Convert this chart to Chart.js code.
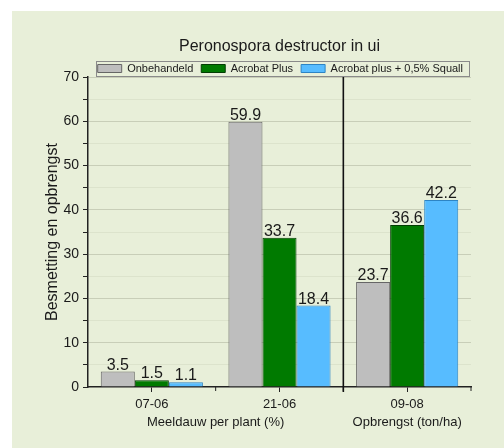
<!DOCTYPE html>
<html>
<head>
<meta charset="utf-8">
<script src="https://cdn.jsdelivr.net/npm/chart.js@4.4.1/dist/chart.umd.min.js"></script>
<style>
body { margin: 0; background: #fff; }
#panel { position: absolute; left: 12px; top: 11px; width: 492px; height: 437px; background: #e8efd9; }
#wrap { position: absolute; left: 0; top: 0; width: 504px; height: 448px; }
</style>
</head>
<body>
<div id="panel"></div>
<div id="wrap"><canvas id="chart"></canvas></div>
<script>
// data
var titleText = 'Peronospora destructor in ui';
var yTitle = 'Besmetting en opbrengst';
var categories = ['07-06', '21-06', '09-08'];
var seriesNames = ['Onbehandeld', 'Acrobat Plus', 'Acrobat plus + 0,5% Squall'];
var onbehandeld = [3.5, 59.9, 23.7];
var acrobatPlus = [1.5, 33.7, 36.6];
var acrobatSquall = [1.1, 18.4, 42.2];
// group label, first and last category index
var groupLabels = ['Meeldauw per plant (%)', 'Opbrengst (ton/ha)'];
var groupSpans = [[0, 1], [2, 2]];
var yMin = 0, yMax = 70, yStep = 5;

var FONT = '"Liberation Sans", Arial, sans-serif';

var extras = {
	id: 'extras',
	afterDatasetsDraw: function(chart) {
		var ctx = chart.ctx;
		var x = chart.scales.x;
		var area = chart.chartArea;
		ctx.save();
		// value labels on top of bars
		ctx.font = '16px ' + FONT;
		ctx.fillStyle = '#1a1a1a';
		ctx.textAlign = 'center';
		ctx.textBaseline = 'alphabetic';
		chart.data.datasets.forEach(function(ds, i) {
			chart.getDatasetMeta(i).data.forEach(function(bar, j) {
				ctx.fillText(ds.data[j].toFixed(1), bar.x, bar.y - 2);
			});
		});
		// divider between the two groups and boundary ticks
		var step = x.getPixelForValue(1) - x.getPixelForValue(0);
		ctx.strokeStyle = '#222';
		ctx.lineWidth = 1;
		for (var k = 0; k < categories.length; k++) {
			var bx = x.getPixelForValue(k) + step / 2;
			ctx.beginPath();
			ctx.moveTo(bx, area.bottom);
			ctx.lineTo(bx, area.bottom + 4);
			ctx.stroke();
		}
		var xd = x.getPixelForValue(groupSpans[0][1]) + step / 2;
		ctx.strokeStyle = '#111';
		ctx.lineWidth = 1.6;
		ctx.beginPath();
		ctx.moveTo(xd, area.top);
		ctx.lineTo(xd, area.bottom + 5);
		ctx.stroke();
		// title
		ctx.fillStyle = '#1a1a1a';
		ctx.font = '16px ' + FONT;
		ctx.fillText(titleText, (area.left + area.right) / 2, 51);
		// group labels under the ticks
		ctx.font = '13px ' + FONT;
		groupSpans.forEach(function(span, g) {
			var cx = (x.getPixelForValue(span[0]) + x.getPixelForValue(span[1])) / 2;
			ctx.fillText(groupLabels[g], cx, area.bottom + 39);
		});
		ctx.restore();
	},
	afterDraw: function(chart) {
		// frame around the legend
		var hb = chart.legend.legendHitBoxes;
		if (!hb || !hb.length) return;
		var left = hb[0].left - 2;
		var last = hb[hb.length - 1];
		var right = last.left + last.width + 6;
		var top = hb[0].top - 2;
		var bottom = hb[0].top + hb[0].height + 2;
		var ctx = chart.ctx;
		ctx.save();
		ctx.strokeStyle = '#8a8a8a';
		ctx.lineWidth = 1;
		ctx.strokeRect(Math.round(left) + 0.5, Math.round(top) + 0.5, Math.round(right - left), Math.round(bottom - top));
		ctx.restore();
	}
};

var ctx = document.getElementById('chart').getContext('2d');
var myChart = new Chart(ctx, {
	type: 'bar',
	data: {
		labels: categories,
		datasets: [
			{ label: seriesNames[0], data: onbehandeld, backgroundColor: '#bebebe', borderColor: '#666', borderWidth: 1 },
			{ label: seriesNames[1], data: acrobatPlus, backgroundColor: '#007a00', borderColor: '#023d02', borderWidth: 1 },
			{ label: seriesNames[2], data: acrobatSquall, backgroundColor: '#57bcff', borderColor: '#2d84c4', borderWidth: 1 }
		]
	},
	options: {
		responsive: true,
		maintainAspectRatio: false,
		animation: false,
		datasets: { bar: { categoryPercentage: 0.8, barPercentage: 1.0 } },
		layout: { padding: { left: 40, right: 33, top: 55, bottom: 30 } },
		plugins: {
			title: { display: false },
			tooltip: { enabled: false },
			legend: {
				position: 'top',
				align: 'end',
				maxHeight: 22,
				labels: {
					boxWidth: 24,
					boxHeight: 8,
					padding: 8,
					color: '#1a1a1a',
					font: { family: FONT, size: 11 }
				}
			}
		},
		scales: {
			x: {
				offset: true,
				grid: { offset: false, drawOnChartArea: false, tickLength: 5, color: '#222' },
				border: { color: '#222', width: 1.5 },
				ticks: { color: '#1a1a1a', padding: 5, font: { family: FONT, size: 13 } },
				afterFit: function(scale) { scale.height = 31; }
			},
			y: {
				min: yMin,
				max: yMax,
				grid: {
					tickLength: 5,
					color: function(c) {
						if (c.tick.value === 0) return 'rgba(0,0,0,0)';
						return c.tick.value % 10 === 0 ? '#c8ceb8' : '#dce3cc';
					},
					tickColor: '#222'
				},
				border: { color: '#222', width: 1.5 },
				ticks: {
					stepSize: yStep,
					padding: 4,
					color: '#1a1a1a',
					font: { family: FONT, size: 14 },
					callback: function(v) { return v % 10 === 0 ? v : ''; }
				},
				title: { display: true, text: yTitle, color: '#1a1a1a', padding: 3, font: { family: FONT, size: 16 } },
				afterFit: function(scale) { scale.width = 48; }
			}
		}
	},
	plugins: [extras]
});
</script>
</body>
</html>
